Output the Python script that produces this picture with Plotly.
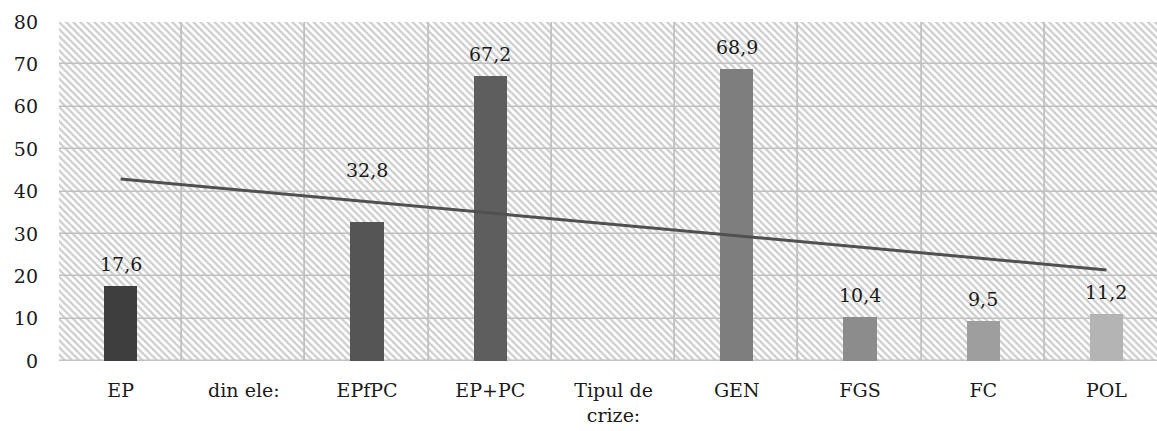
import numpy as np
import plotly.graph_objects as go

categories = ["EP", "din ele:", "EPfPC", "EP+PC", "Tipul de crize:", "GEN", "FGS", "FC", "POL"]
tick_text = ["EP", "din ele:", "EPfPC", "EP+PC", "Tipul de<br>crize:", "GEN", "FGS", "FC", "POL"]
values = [17.6, None, 32.8, 67.2, None, 68.9, 10.4, 9.5, 11.2]
y_ticks = [0, 10, 20, 30, 40, 50, 60, 70, 80]

bar_colors = ["#3e3e3e", "#4a4a4a", "#555555", "#5e5e5e", "#6a6a6a",
              "#7e7e7e", "#8c8c8c", "#9e9e9e", "#b4b4b4"]
label_shift = {"EPfPC": 39}
FONT = "DejaVu Serif"

fig = go.Figure()

# hatched grid cells (background)
cell_x, cell_base, cell_h = [], [], []
for c in categories:
    for lo, hi in zip(y_ticks[:-1], y_ticks[1:]):
        cell_x.append(c)
        cell_base.append(lo)
        cell_h.append(hi - lo)
fig.add_trace(go.Bar(
    x=cell_x, y=cell_h, base=cell_base, width=1,
    marker=dict(color="white",
                line=dict(color="#c0c0c0", width=1.5),
                pattern=dict(shape="\\", fgcolor="#9a9a9a", bgcolor="white",
                             size=5, solidity=0.45)),
    hoverinfo="skip", showlegend=False))

# data bars
fig.add_trace(go.Bar(
    x=categories, y=values, width=0.27,
    marker=dict(color=bar_colors, line=dict(width=0)),
    showlegend=False))

# linear trend line
idx = np.array([i for i, v in enumerate(values) if v is not None], dtype=float)
vals = np.array([v for v in values if v is not None], dtype=float)
slope, intercept = np.polyfit(idx, vals, 1)
fig.add_trace(go.Scatter(
    x=[categories[0], categories[-1]],
    y=[intercept, intercept + slope * (len(categories) - 1)],
    mode="lines", line=dict(color="#505050", width=3), showlegend=False))

# data labels
for c, v in zip(categories, values):
    if v is None:
        continue
    fig.add_annotation(
        x=c, y=v, text=f"{v:.1f}".replace(".", ","), showarrow=False,
        yanchor="bottom", yshift=label_shift.get(c, 9),
        font=dict(family=FONT, size=19, color="#1a1a1a"))

fig.update_layout(
    width=1157, height=431,
    margin=dict(l=59, r=0, t=22, b=70),
    barmode="overlay", bargap=0,
    plot_bgcolor="white", paper_bgcolor="white",
    font=dict(family=FONT, size=19, color="#1a1a1a"),
    xaxis=dict(type="category", categoryorder="array", categoryarray=categories,
               tickvals=categories, ticktext=tick_text,
               range=[-0.5, 8.41], showgrid=False, zeroline=False,
               showline=False, ticks="", ticklabelstandoff=16),
    yaxis=dict(range=[0, 80], tickvals=y_ticks, showgrid=False, zeroline=False,
               showline=False, ticks="", ticklabelstandoff=20),
)

fig.write_html("out.html")
